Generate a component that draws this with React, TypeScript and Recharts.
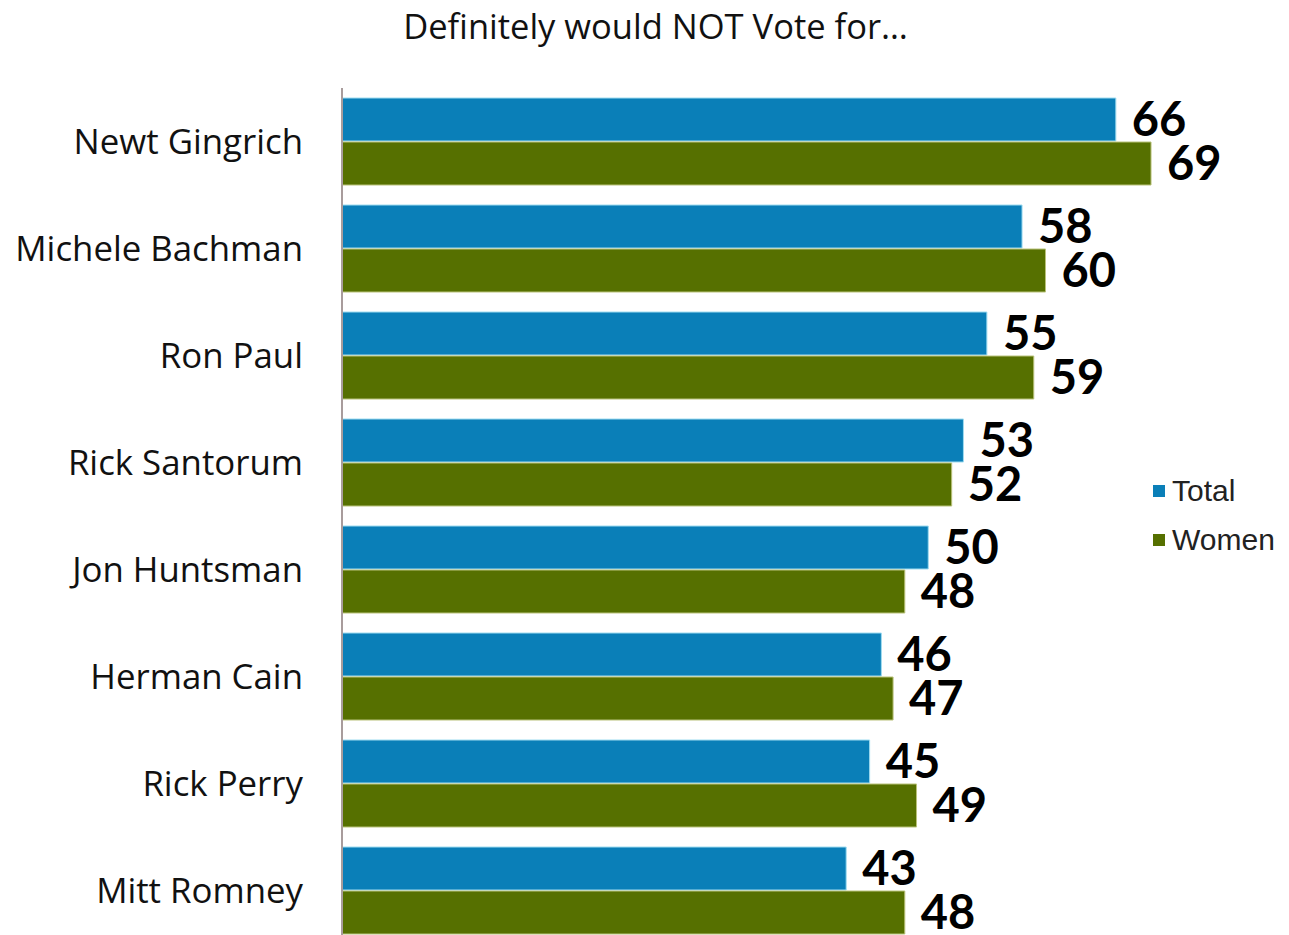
import React from 'react';
import { BarChart, Bar, XAxis, YAxis, LabelList, Legend } from 'recharts';

const candidates = ['Newt Gingrich', 'Michele Bachman', 'Ron Paul', 'Rick Santorum', 'Jon Huntsman', 'Herman Cain', 'Rick Perry', 'Mitt Romney'];
const totalValues = [66, 58, 55, 53, 50, 46, 45, 43];
const womenValues = [69, 60, 59, 52, 48, 47, 49, 48];
const seriesNames = ['Total', 'Women'];
const seriesColors = ['#0A7FB8', '#567000'];
const seriesStrokes = ['#9fdcf0', '#b9c27a'];
const titleText = 'Definitely would NOT Vote for…';

const data = candidates.map((name, i) => ({ name, Total: totalValues[i], Women: womenValues[i] }));

const LegendContent = () => (
  <div style={{ fontFamily: '"Liberation Sans", Arial, sans-serif', fontSize: 30, color: '#222' }}>
    {seriesNames.map((n, i) => (
      <div key={n} style={{ display: 'flex', alignItems: 'center', height: 49 }}>
        <span style={{ display: 'inline-block', width: 12, height: 12, background: seriesColors[i], marginRight: 7 }} />
        <span>{n}</span>
      </div>
    ))}
  </div>
);

export default function App() {
  return (
    <div style={{ position: 'absolute', left: 0, top: 0, width: 1289, height: 935, overflow: 'hidden', background: '#fff' }}>
      <div style={{ position: 'absolute', left: 0, top: 3, width: 1311, textAlign: 'center', fontFamily: '"Open Sans", sans-serif', fontSize: 34.5, color: '#111', lineHeight: '46px' }}>
        {titleText}
      </div>
      <BarChart
        width={1289}
        height={950}
        data={data}
        layout="vertical"
        margin={{ top: 88, right: 9, bottom: 6, left: 0 }}
        barSize={43}
        barGap={1}
      >
        <XAxis type="number" domain={[0, 80]} hide />
        <YAxis
          type="category"
          dataKey="name"
          width={342}
          tickLine={false}
          tickSize={0}
          tickMargin={39}
          axisLine={{ stroke: '#a89c9c', strokeWidth: 2 }}
          tick={{ fontSize: 34.8, fill: '#111', fontFamily: '"Open Sans", sans-serif' }}
          interval={0}
        />
        <Legend
          layout="vertical"
          align="center"
          verticalAlign="middle"
          content={<LegendContent />}
          wrapperStyle={{ left: 1153, top: 466, width: 140 }}
        />
        {seriesNames.map((s, i) => (
          <Bar key={s} dataKey={s} fill={seriesColors[i]} stroke={seriesStrokes[i]} strokeWidth={1} isAnimationActive={false}>
            <LabelList
              dataKey={s}
              position="right"
              offset={16}
              style={{ fontSize: 47, fontWeight: 700, fill: '#000', fontFamily: 'Lato, sans-serif' }}
            />
          </Bar>
        ))}
      </BarChart>
    </div>
  );
}
